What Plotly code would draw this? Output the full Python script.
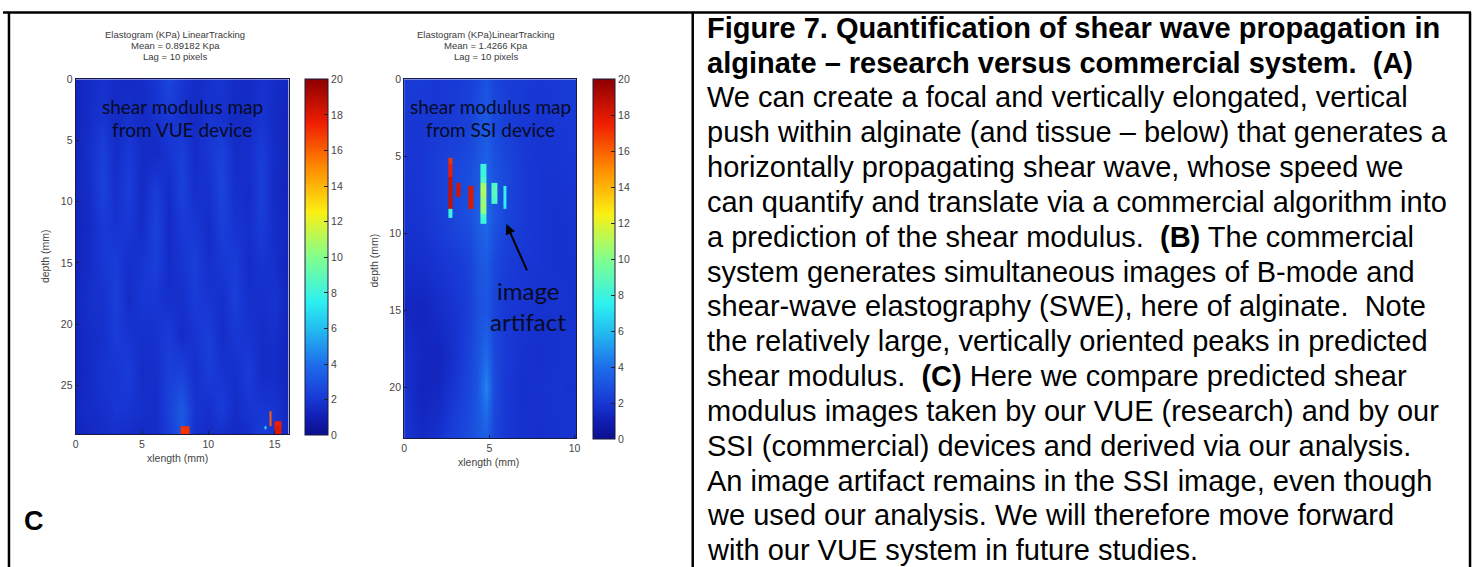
import plotly.graph_objects as go

W, H = 1481, 567

# ---------------- data ----------------
VUE_X = [0, 1, 2, 3, 4, 5, 6, 7, 8, 9, 10, 11, 12, 13, 14, 15, 16]
VUE_DEPTH = [0, 3, 6, 9, 12, 15, 18, 21, 24, 27, 29]
VUE_Z = [
    [1.4, 1.5, 1.8, 1.6, 1.5, 1.6, 1.9, 2.6, 2.0, 1.6, 1.7, 1.9, 1.6, 1.5, 1.8, 1.6, 1.4],
    [1.3, 1.6, 1.9, 1.5, 1.8, 1.5, 1.8, 2.1, 1.8, 1.5, 1.9, 1.8, 1.5, 1.6, 1.9, 1.5, 1.3],
    [1.3, 1.7, 2.3, 1.6, 2.1, 1.6, 1.5, 1.9, 2.3, 1.6, 2.0, 2.4, 1.6, 1.7, 2.2, 1.6, 1.3],
    [1.4, 1.6, 2.4, 1.7, 2.3, 1.5, 2.2, 1.6, 2.4, 1.7, 1.8, 2.5, 1.7, 1.6, 2.3, 1.5, 1.3],
    [1.3, 1.5, 2.1, 1.9, 2.0, 1.6, 2.4, 1.5, 2.1, 2.0, 1.6, 2.3, 1.9, 1.7, 2.2, 1.6, 1.4],
    [1.3, 1.6, 2.0, 2.2, 1.7, 1.9, 2.3, 1.6, 1.9, 2.3, 1.7, 2.0, 2.2, 1.6, 1.9, 1.7, 1.3],
    [1.4, 1.7, 1.8, 2.3, 1.6, 2.0, 2.0, 1.7, 1.7, 2.2, 1.9, 1.7, 2.3, 1.7, 1.7, 1.9, 1.4],
    [1.3, 1.6, 1.7, 2.2, 1.9, 1.7, 1.8, 2.2, 1.6, 1.9, 2.3, 1.6, 2.0, 1.9, 1.6, 1.7, 1.3],
    [1.3, 1.5, 1.9, 1.9, 2.2, 1.6, 1.7, 2.3, 2.4, 1.7, 2.2, 1.9, 1.7, 2.2, 1.6, 1.6, 1.3],
    [1.4, 1.6, 1.7, 2.0, 1.9, 1.7, 1.6, 2.4, 3.3, 1.9, 1.7, 2.2, 1.6, 1.9, 2.0, 1.9, 1.4],
    [1.3, 1.4, 1.6, 1.7, 1.6, 1.5, 1.6, 2.2, 3.1, 1.7, 1.6, 1.7, 1.5, 1.6, 2.2, 1.9, 1.4],
]

VUE_ART_X = [7.9, 8.6, 14.2, 14.35, 14.6, 14.75, 15.0, 15.5]
VUE_ART_DEPTH = [27.1, 27.9, 28.3, 28.6, 29.0]
VUE_ART_Z = [
    [None, None, None, None, 16, None, None],
    [None, None, None, None, 16, None, 17.5],
    [17, None, 7, None, None, None, 18],
    [17, None, None, None, None, None, 18],
]

SSI_X = [0, 1, 2, 3, 3.8, 4.3, 4.8, 5.3, 6, 7, 8, 9, 10]
SSI_DEPTH = [0, 3, 6, 9, 12, 15, 18, 20, 23.3]
SSI_Z = [
    [2.2, 2.1, 2.0, 2.1, 2.3, 2.6, 3.0, 2.5, 2.2, 2.1, 2.0, 2.1, 2.2],
    [2.0, 2.0, 2.1, 2.2, 2.4, 2.9, 3.3, 2.7, 2.3, 2.0, 1.9, 2.0, 2.1],
    [1.9, 2.0, 2.3, 2.6, 2.8, 3.2, 3.6, 3.0, 2.6, 2.1, 1.9, 1.9, 2.0],
    [1.8, 1.9, 2.2, 2.6, 2.9, 3.4, 3.8, 3.1, 2.5, 2.1, 1.9, 1.8, 1.9],
    [1.6, 1.7, 1.9, 2.1, 2.4, 3.0, 3.3, 2.6, 2.2, 2.0, 1.9, 1.8, 1.8],
    [1.4, 1.3, 1.6, 1.9, 2.3, 2.9, 3.1, 2.5, 2.0, 1.9, 1.8, 1.9, 1.8],
    [1.7, 1.4, 1.3, 1.8, 2.5, 3.0, 3.9, 2.6, 2.1, 1.8, 1.7, 1.8, 1.9],
    [1.8, 1.3, 1.4, 2.0, 2.6, 3.1, 4.6, 2.7, 2.0, 1.7, 1.8, 1.9, 1.8],
    [1.9, 1.5, 1.8, 2.4, 2.8, 3.2, 3.4, 2.5, 2.0, 1.8, 1.7, 1.8, 1.9],
]

SSI_ART_X = [2.6, 2.85, 3.05, 3.3, 3.8, 4.05, 4.45, 4.8, 5.1, 5.5, 5.85, 6.0]
SSI_ART_DEPTH = [5.1, 5.5, 6.3, 6.7, 6.9, 7.6, 8.1, 8.4, 8.7, 9.0, 9.4]
N = None
SSI_ART_Z = [
    [17, N, N, N, N, N, N, N, N, N, N],
    [17.5, N, N, N, N, N, 8.0, N, N, N, N],
    [18.5, N, N, N, N, N, 8.4, N, N, N, N],
    [18.5, N, 18, N, N, N, 10.6, N, 8.5, N, N],
    [18.5, N, 18.2, N, 18, N, 10.9, N, 8.8, N, 7.6],
    [18.5, N, N, N, 18, N, 10.4, N, 8.4, N, 7.6],
    [18.5, N, N, N, 18, N, 10.7, N, N, N, 7.4],
    [8.0, N, N, N, N, N, 10.2, N, N, N, N],
    [8.0, N, N, N, N, N, 8.4, N, N, N, N],
    [N, N, N, N, N, N, 8.0, N, N, N, N],
]

CBAR_TICKS = [0, 2, 4, 6, 8, 10, 12, 14, 16, 18, 20]
VUE_XTICKS = [0, 5, 10, 15]
VUE_YTICKS = [0, 5, 10, 15, 20, 25]
SSI_XTICKS = [0, 5, 10]
SSI_YTICKS = [0, 5, 10, 15, 20]

VUE_TITLE = ["Elastogram (KPa) LinearTracking", "Mean = 0.89182 Kpa", "Lag = 10 pixels"]
SSI_TITLE = ["Elastogram (KPa)LinearTracking", "Mean = 1.4266 Kpa", "Lag = 10 pixels"]

NB = "\u00a0"
CAPTION = [
    "<b>Figure 7. Quantification of shear wave propagation in</b>",
    "<b>alginate – research versus commercial system." + NB + " (A)</b>",
    "We can create a focal and vertically elongated, vertical",
    "push within alginate (and tissue – below) that generates a",
    "horizontally propagating shear wave, whose speed we",
    "can quantify and translate via a commercial algorithm into",
    "a prediction of the shear modulus." + NB + " <b>(B)</b> The commercial",
    "system generates simultaneous images of B-mode and",
    "shear-wave elastography (SWE), here of alginate." + NB + " Note",
    "the relatively large, vertically oriented peaks in predicted",
    "shear modulus." + NB + " <b>(C)</b> Here we compare predicted shear",
    "modulus images taken by our VUE (research) and by our",
    "SSI (commercial) devices and derived via our analysis.",
    "An image artifact remains in the SSI image, even though",
    "we used our analysis. We will therefore move forward",
    "with our VUE system in future studies.",
]

# ---------------- style ----------------
CS = [
    [0.0, "rgb(10,15,140)"],
    [0.05, "rgb(16,30,180)"],
    [0.1, "rgb(24,55,212)"],
    [0.2, "rgb(30,110,235)"],
    [0.3, "rgb(35,190,240)"],
    [0.375, "rgb(45,240,240)"],
    [0.5, "rgb(130,255,140)"],
    [0.625, "rgb(250,240,20)"],
    [0.75, "rgb(255,140,0)"],
    [0.875, "rgb(240,30,0)"],
    [1.0, "rgb(140,0,0)"],
]


def px(x):
    return x / W


def py(y):
    return 1 - y / H


SMALL = dict(family="Liberation Sans", size=10.5, color="#444")
TITLE = dict(family="Liberation Sans", size=9.5, color="#3a3a3a")


def cbar(x0, y0, y1, thick):
    return dict(
        x=px(x0), xanchor="left", xpad=0,
        y=py(y0), yanchor="top", ypad=0,
        len=(y1 - y0) / H, lenmode="fraction",
        thickness=thick, thicknessmode="pixels",
        outlinewidth=1, outlinecolor="#1a1a40",
        tickvals=CBAR_TICKS, ticks="inside", ticklen=4, tickcolor="#222",
        tickfont=SMALL,
    )


fig = go.Figure()
fig.add_trace(go.Heatmap(x=VUE_X, y=VUE_DEPTH, z=VUE_Z, zmin=0, zmax=20, colorscale=CS,
                         zsmooth="best", xaxis="x", yaxis="y",
                         colorbar=cbar(303, 74, 434, 23)))
fig.add_trace(go.Heatmap(x=VUE_ART_X, y=VUE_ART_DEPTH, z=VUE_ART_Z, zmin=0, zmax=20,
                         colorscale=CS, showscale=False, xaxis="x", yaxis="y"))
fig.add_trace(go.Heatmap(x=SSI_X, y=SSI_DEPTH, z=SSI_Z, zmin=0, zmax=20, colorscale=CS,
                         zsmooth="best", xaxis="x2", yaxis="y2",
                         colorbar=cbar(593, 74, 438, 22)))
fig.add_trace(go.Heatmap(x=SSI_ART_X, y=SSI_ART_DEPTH, z=SSI_ART_Z, zmin=0, zmax=20,
                         colorscale=CS, showscale=False, xaxis="x2", yaxis="y2"))

axis_common = dict(showgrid=False, zeroline=False, showline=True, mirror=True,
                   linecolor="#1a1a40", linewidth=1, ticks="inside", ticklen=3,
                   tickcolor="#1a1a40", tickfont=SMALL, ticklabelstandoff=0)

fig.update_layout(
    width=W, height=H, autosize=False,
    margin=dict(l=0, r=0, t=0, b=0),
    paper_bgcolor="white", plot_bgcolor="white",
    showlegend=False,
    xaxis=dict(domain=[px(73), px(287)], range=[0, 16.05], tickvals=VUE_XTICKS, anchor="y",
               **axis_common),
    yaxis=dict(domain=[py(433), py(74)], range=[29, 0], tickvals=VUE_YTICKS, anchor="x",
               **axis_common),
    xaxis2=dict(domain=[px(403), px(576)], range=[0, 10.1], tickvals=SSI_XTICKS, anchor="y2",
                **axis_common),
    yaxis2=dict(domain=[py(437), py(74)], range=[23.3, 0], tickvals=SSI_YTICKS, anchor="x2",
                **axis_common),
)

ann = []


def text(x, y, t, font, **kw):
    d = dict(x=px(x), y=py(y), xref="paper", yref="paper", text=t, showarrow=False,
             font=font, xanchor=kw.pop("xanchor", "center"), yanchor=kw.pop("yanchor", "middle"))
    d.update(kw)
    ann.append(d)


for i, t in enumerate(VUE_TITLE):
    text(173, 29 + i * 11, t, TITLE, borderpad=0)
for i, t in enumerate(SSI_TITLE):
    text(485, 29 + i * 11, t, TITLE, borderpad=0)

text(43, 253, "depth (mm)", SMALL, textangle=-90)
text(373, 257, "depth (mm)", SMALL, textangle=-90)
text(175, 457, "xlength (mm)", SMALL)
text(488, 461, "xlength (mm)", SMALL)

BIG = dict(family="Lato", size=19, color="#070b25")
text(180, 102, "shear modulus map", BIG)
text(180, 125, "from VUE device", BIG)
text(490, 102, "shear modulus map", BIG)
text(490, 125, "from SSI device", BIG)
ART = dict(family="Lato", size=24, color="#070b25")
text(527, 288, "image", ART)
text(527, 319, "artifact", ART)

ann.append(dict(x=6.0, y=9.4, xref="x2", yref="y2", ax=7.25, ay=12.5, axref="x2", ayref="y2",
                text="", showarrow=True, arrowhead=2, arrowsize=1, arrowwidth=2,
                arrowcolor="black"))

text(31, 521, "<b>C</b>", dict(family="Liberation Sans", size=27, color="black"))

CAP = dict(family="Liberation Sans", size=29, color="black")
for i, t in enumerate(CAPTION):
    text(705, 22 + i * 35.2, t, CAP, xanchor="left")

fig.update_layout(annotations=ann)

line = dict(color="black", width=2.5)
for x0, y0, x1, y1 in [(0, 6.5, 1475, 6.5), (6, 6.5, 6, 567), (693, 6.5, 693, 567),
                       (1474, 6.5, 1474, 567)]:
    fig.add_shape(type="line", xref="paper", yref="paper", x0=px(x0), y0=py(y0),
                  x1=px(x1), y1=py(y1), line=line)

fig.write_html("out.html")
